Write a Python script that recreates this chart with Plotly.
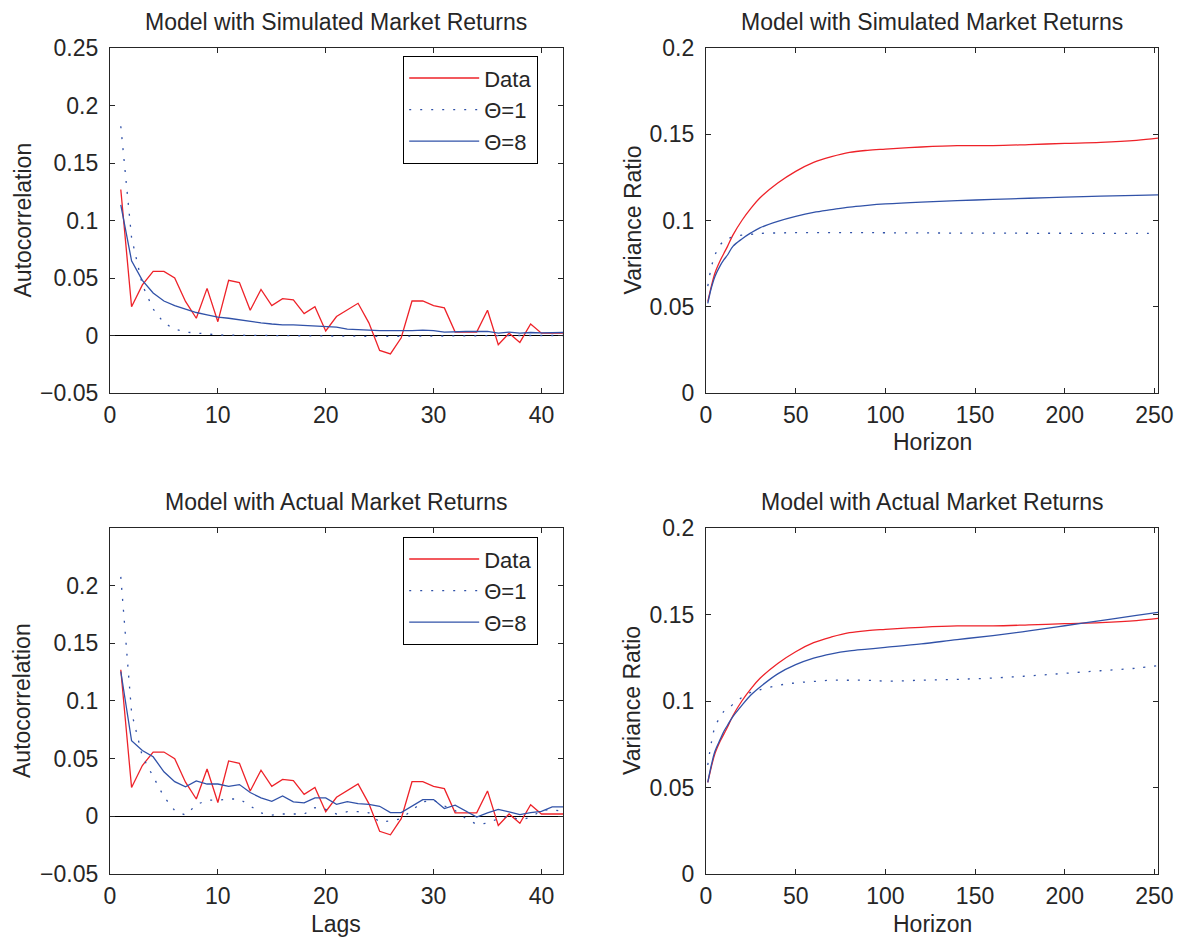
import plotly.graph_objects as go

# ---------------- data ----------------
lags = list(range(1, 43))

acf_data = [0.127, 0.025, 0.044, 0.0557, 0.0557, 0.050, 0.0296, 0.015, 0.041, 0.012,
            0.048, 0.046, 0.022, 0.040, 0.026, 0.032, 0.031, 0.019, 0.025, 0.004,
            0.0165, 0.022, 0.028, 0.011, -0.013, -0.016, -0.002, 0.030, 0.030, 0.026,
            0.024, 0.003, 0.003, 0.003, 0.022, -0.008, 0.002, -0.006, 0.010, 0.002,
            0.002, 0.002]

acf_theta1_sim = [0.182, 0.085, 0.044, 0.023, 0.011, 0.0055, 0.003, 0.002, 0.001, 0.0005,
                  0.0003, 0.0002, 0.0001, 0.0, 0.0, -0.0003, -0.0005, -0.0005, -0.0006, -0.0006,
                  -0.0006, -0.0007, -0.0008, -0.0008, -0.0008, -0.0007, -0.0006, -0.0004, -0.0003, -0.0003,
                  -0.0003, -0.0002, -0.0002, -0.0002, -0.0002, -0.0001, -0.0001, 0.0, 0.0, 0.0,
                  0.0, 0.0]

acf_theta8_sim = [0.1136, 0.065, 0.048, 0.037, 0.030, 0.026, 0.023, 0.020, 0.018, 0.016,
                  0.015, 0.0136, 0.012, 0.011, 0.010, 0.0093, 0.0093, 0.0087, 0.0078, 0.0072,
                  0.0072, 0.0055, 0.005, 0.005, 0.0043, 0.0043, 0.004, 0.0043, 0.0046, 0.0043,
                  0.003, 0.0035, 0.0035, 0.0035, 0.0035, 0.002, 0.003, 0.002, 0.0026, 0.0023,
                  0.0023, 0.0026]

acf_theta1_act = [0.2075, 0.09, 0.052, 0.035, 0.017, 0.005, 0.001, 0.010, 0.014, 0.014,
                  0.015, 0.015, 0.009, 0.003, 0.001, 0.002, 0.002, 0.002, 0.0075, 0.006,
                  0.002, 0.004, 0.004, 0.003, -0.005, -0.004, -0.002, 0.005, 0.0125, 0.014,
                  0.009, 0.005, -0.002, -0.007, -0.006, -0.002, 0.0, -0.003, -0.001, 0.005,
                  0.006, 0.004]

acf_theta8_act = [0.1255, 0.0655, 0.057, 0.0516, 0.0386, 0.030, 0.0255, 0.0307, 0.028, 0.028,
                  0.026, 0.0275, 0.0206, 0.016, 0.013, 0.0177, 0.0125, 0.0116, 0.016, 0.016,
                  0.0104, 0.0128, 0.011, 0.0104, 0.0087, 0.0032, 0.0032, 0.0087, 0.0145, 0.0145,
                  0.0067, 0.0096, 0.0043, -0.0006, 0.0029, 0.006, 0.0038, 0.0014, 0.0032, 0.0043,
                  0.0081, 0.0081]

horizons = [1, 3, 5, 8, 10, 12, 15, 20, 25, 30, 40, 50, 60, 70, 80, 90, 100,
            120, 140, 160, 180, 200, 220, 240, 252]

vr_data = [0.053, 0.062, 0.0696, 0.077, 0.081, 0.085, 0.0915, 0.100, 0.107, 0.113,
           0.1217, 0.1285, 0.1337, 0.137, 0.1395, 0.1407, 0.1414,
           0.1426, 0.1434, 0.1434, 0.144, 0.1447, 0.1453, 0.1465, 0.1478]

vr_theta1_sim = [0.062, 0.073, 0.080, 0.086, 0.088, 0.0893, 0.0905, 0.0915, 0.092, 0.0925,
                 0.0928, 0.093, 0.093, 0.093, 0.093, 0.093, 0.0929,
                 0.0928, 0.0927, 0.0927, 0.0926, 0.0926, 0.0925, 0.0925, 0.0925]

vr_theta8_sim = [0.052, 0.061, 0.0676, 0.074, 0.0773, 0.080, 0.085, 0.0893, 0.0928, 0.0957,
                 0.0995, 0.1024, 0.1047, 0.1063, 0.1078, 0.1088, 0.1096,
                 0.1107, 0.1115, 0.1122, 0.1129, 0.1136, 0.1141, 0.1146, 0.1148]

vr_theta1_act = [0.063, 0.076, 0.085, 0.091, 0.094, 0.0955, 0.098, 0.102, 0.105, 0.1065,
                 0.109, 0.1105, 0.1113, 0.112, 0.112, 0.112, 0.1115,
                 0.112, 0.1125, 0.1133, 0.1145, 0.116, 0.1175, 0.119, 0.1205]

vr_theta8_act = [0.053, 0.063, 0.071, 0.078, 0.0825, 0.086, 0.091, 0.0975, 0.1035, 0.108,
                 0.1157, 0.121, 0.1248, 0.1273, 0.129, 0.130, 0.131,
                 0.133, 0.1355, 0.1378, 0.1405, 0.1435, 0.1465, 0.1495, 0.1512]

acf_ticks = [-0.05, 0, 0.05, 0.1, 0.15, 0.2, 0.25]
acf_ticktext = ["\u22120.05", "0", "0.05", "0.1", "0.15", "0.2", "0.25"]
vr_ticks = [0, 0.05, 0.1, 0.15, 0.2]
vr_ticktext = ["0", "0.05", "0.1", "0.15", "0.2"]
lag_ticks = [0, 10, 20, 30, 40]
hor_ticks = [0, 50, 100, 150, 200, 250]

title_sim = "Model with Simulated Market Returns"
title_act = "Model with Actual Market Returns"

# ---------------- style ----------------
W, H = 1180, 939
RED = "#ee2229"
BLUE = "#3152a8"
INK = "#262626"
FONT = "Liberation Sans, Arial, Helvetica, sans-serif"
FS = 23
LFS = 22
DOT = "2px,9px"


def px_x(p):
    return p / W


def px_y(p):
    return 1 - p / H


fig = go.Figure()


def add_panel(xa, ya, x, series, legend=None, shape="linear"):
    for name, y, dash, color in series:
        fig.add_trace(go.Scatter(
            x=x, y=y, mode="lines", name=name,
            line=dict(color=color, width=1.3, dash=dash, shape=shape),
            xaxis=xa, yaxis=ya,
            showlegend=legend is not None,
            legend=legend if legend is not None else "legend",
        ))


add_panel("x", "y", lags, [("Data", acf_data, "solid", RED),
                           ("\u0398=1", acf_theta1_sim, DOT, BLUE),
                           ("\u0398=8", acf_theta8_sim, "solid", BLUE)], legend="legend")
add_panel("x2", "y2", horizons, [("Data", vr_data, "solid", RED),
                                 ("\u0398=1", vr_theta1_sim, DOT, BLUE),
                                 ("\u0398=8", vr_theta8_sim, "solid", BLUE)], shape="spline")
add_panel("x3", "y3", lags, [("Data", acf_data, "solid", RED),
                             ("\u0398=1", acf_theta1_act, DOT, BLUE),
                             ("\u0398=8", acf_theta8_act, "solid", BLUE)], legend="legend2")
add_panel("x4", "y4", horizons, [("Data", vr_data, "solid", RED),
                                 ("\u0398=1", vr_theta1_act, DOT, BLUE),
                                 ("\u0398=8", vr_theta8_act, "solid", BLUE)], shape="spline")

# axes geometry (pixels)
LX = (110, 563)
RX = (706, 1158)
TY = (48, 393)
BY = (528, 874)


def xdom(p):
    return [px_x(p[0]), px_x(p[1])]


def ydom(p):
    return [px_y(p[1]), px_y(p[0])]


common = dict(showline=True, linecolor=INK, linewidth=1.2, mirror="ticks",
              ticks="inside", ticklen=5, tickcolor=INK, tickwidth=1,
              showgrid=False, automargin=False,
              tickfont=dict(family=FONT, size=FS, color=INK))

layout = dict(
    width=W, height=H,
    margin=dict(l=0, r=0, t=0, b=0, pad=0, autoexpand=False),
    paper_bgcolor="white", plot_bgcolor="white",
    font=dict(family=FONT, size=FS, color=INK),
)

XSO = 1
layout["xaxis"] = dict(common, domain=xdom(LX), anchor="y", range=[0, 42],
                       tickvals=lag_ticks, zeroline=False, ticklabelstandoff=XSO)
layout["yaxis"] = dict(common, domain=ydom(TY), anchor="x", range=[-0.05, 0.25],
                       tickvals=acf_ticks, ticktext=acf_ticktext, zeroline=True,
                       zerolinecolor="black", zerolinewidth=1.2, ticklabelstandoff=6)
layout["xaxis2"] = dict(common, domain=xdom(RX), anchor="y2", range=[0, 252],
                        tickvals=hor_ticks, zeroline=False, ticklabelstandoff=XSO)
layout["yaxis2"] = dict(common, domain=ydom(TY), anchor="x2", range=[0, 0.2],
                        tickvals=vr_ticks, ticktext=vr_ticktext, zeroline=False,
                        ticklabelstandoff=6)
layout["xaxis3"] = dict(common, domain=xdom(LX), anchor="y3", range=[0, 42],
                        tickvals=lag_ticks, zeroline=False, ticklabelstandoff=XSO)
layout["yaxis3"] = dict(common, domain=ydom(BY), anchor="x3", range=[-0.05, 0.2499],
                        tickvals=acf_ticks[:-1], ticktext=acf_ticktext[:-1], zeroline=True,
                        zerolinecolor="black", zerolinewidth=1.2, ticklabelstandoff=6)
layout["xaxis4"] = dict(common, domain=xdom(RX), anchor="y4", range=[0, 252],
                        tickvals=hor_ticks, zeroline=False, ticklabelstandoff=XSO)
layout["yaxis4"] = dict(common, domain=ydom(BY), anchor="x4", range=[0, 0.2],
                        tickvals=vr_ticks, ticktext=vr_ticktext, zeroline=False,
                        ticklabelstandoff=6)

leg = dict(xanchor="left", yanchor="top", bgcolor="white", bordercolor="black",
           borderwidth=1.2, font=dict(family=FONT, size=LFS, color=INK),
           itemwidth=70, tracegroupgap=0, itemclick=False)
layout["legend"] = dict(leg, x=px_x(403), y=px_y(56))
layout["legend2"] = dict(leg, x=px_x(403), y=px_y(537))

ann = []


def text(s, x, y, angle=0):
    ann.append(dict(text=s, x=px_x(x), y=px_y(y), xref="paper", yref="paper",
                    showarrow=False, xanchor="center", yanchor="middle",
                    textangle=angle, font=dict(family=FONT, size=FS, color=INK)))


text(title_sim, (LX[0] + LX[1]) / 2, 22)
text(title_sim, (RX[0] + RX[1]) / 2, 22)
text(title_act, (LX[0] + LX[1]) / 2, 502)
text(title_act, (RX[0] + RX[1]) / 2, 502)
text("Autocorrelation", 22, (TY[0] + TY[1]) / 2, -90)
text("Autocorrelation", 22, (BY[0] + BY[1]) / 2, -90)
text("Variance Ratio", 632, (TY[0] + TY[1]) / 2, -90)
text("Variance Ratio", 632, (BY[0] + BY[1]) / 2, -90)
text("Horizon", (RX[0] + RX[1]) / 2, 442)
text("Horizon", (RX[0] + RX[1]) / 2, 924)
text("Lags", (LX[0] + LX[1]) / 2, 924)
layout["annotations"] = ann

fig.update_layout(layout)
fig.write_html("out.html")
